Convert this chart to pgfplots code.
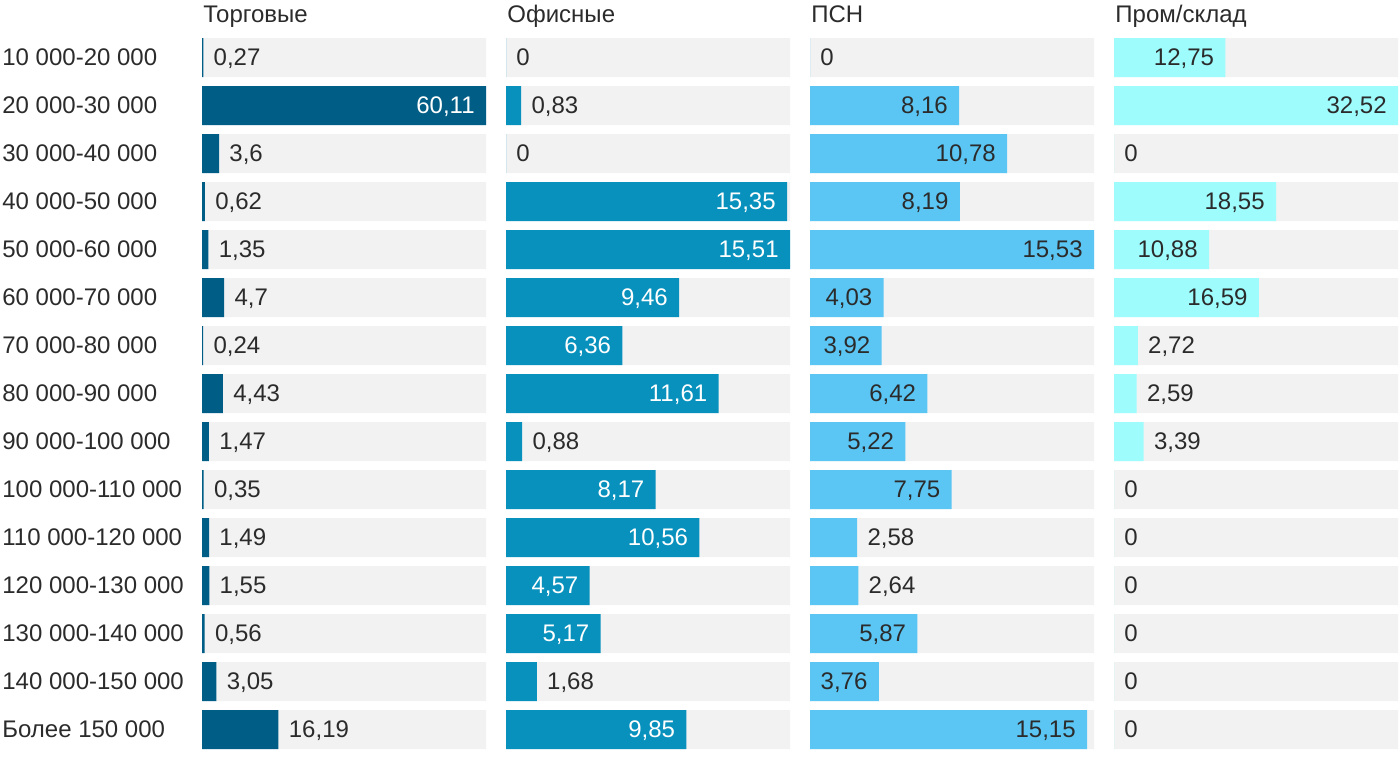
\documentclass[border=0pt]{standalone}
\usepackage{fontspec}
\setmainfont{Liberation Sans}
\usepackage{pgfplots}
\pgfplotsset{compat=1.18}
\definecolor{c1}{HTML}{005E86}
\definecolor{c2}{HTML}{0891BD}
\definecolor{c3}{HTML}{5BC6F4}
\definecolor{c4}{HTML}{9EFCFD}
\definecolor{bg}{HTML}{F2F2F2}
\definecolor{txt}{HTML}{2B2B2B}
\newcommand{\ff}{\fontsize{12}{14}\selectfont}
\pgfplotsset{
  panel/.style={xbar, bar width=19.5pt, bar shift=0pt, scale only axis,
    width=142pt, height=360pt, anchor=south west,
    xmin=0, ymin=0.5, ymax=15.5, y dir=reverse,
    axis line style={draw=none}, major tick length=0pt,
    xtick=\empty, ytick=\empty, clip=false,
    every axis title/.style={at={(0,1)}, anchor=base west, inner sep=0pt, yshift=5.75pt, xshift=0.5pt, font=\ff, text=txt},
    /pgf/number format/use comma, /pgf/number format/precision=2,
    /pgf/number format/assume math mode=true},
  lin/.style={draw=none, fill=none, nodes near coords,
    every node near coord/.style={anchor=east, xshift=-5.5pt, inner sep=0pt,
      text height=8.6pt, text depth=0pt, yshift=0.2pt, font=\ff, text=#1}},
  lout/.style={draw=none, fill=none, nodes near coords,
    every node near coord/.style={anchor=west, xshift=5pt, inner sep=0pt,
      text height=8.6pt, text depth=0pt, yshift=0.2pt, font=\ff, text=txt}},
}
\begin{document}
\begin{tikzpicture}
\path[use as bounding box] (0,0) rectangle (700pt,383pt);
% Panel 1
\begin{axis}[panel, at={(101pt,6.15pt)}, xmax=60.11, title={Торговые},
  ytick={1,...,15},
  yticklabels={10 000-20 000,20 000-30 000,30 000-40 000,40 000-50 000,50 000-60 000,60 000-70 000,70 000-80 000,80 000-90 000,90 000-100 000,100 000-110 000,110 000-120 000,120 000-130 000,130 000-140 000,140 000-150 000,Более 150 000},
  yticklabel style={anchor=west, xshift=-100pt, inner sep=0pt, text height=8.6pt, text depth=0pt, yshift=0.2pt, font=\ff, text=txt}]
\addplot[fill=bg, draw=none] coordinates {(60.11,1) (60.11,2) (60.11,3) (60.11,4) (60.11,5) (60.11,6) (60.11,7) (60.11,8) (60.11,9) (60.11,10) (60.11,11) (60.11,12) (60.11,13) (60.11,14) (60.11,15)};
\addplot[fill=c1, draw=none] coordinates {(0.27,1) (60.11,2) (3.6,3) (0.62,4) (1.35,5) (4.7,6) (0.24,7) (4.43,8) (1.47,9) (0.35,10) (1.49,11) (1.55,12) (0.56,13) (3.05,14) (16.19,15)};
\addplot[lin=white] coordinates {(60.11,2)};
\addplot[lout] coordinates {(0.27,1) (3.6,3) (0.62,4) (1.35,5) (4.7,6) (0.24,7) (4.43,8) (1.47,9) (0.35,10) (1.49,11) (1.55,12) (0.56,13) (3.05,14) (16.19,15)};
\end{axis}
% Panel 2
\begin{axis}[panel, at={(253pt,6.15pt)}, xmax=15.51, title={Офисные}]
\addplot[fill=bg, draw=none] coordinates {(15.51,1) (15.51,2) (15.51,3) (15.51,4) (15.51,5) (15.51,6) (15.51,7) (15.51,8) (15.51,9) (15.51,10) (15.51,11) (15.51,12) (15.51,13) (15.51,14) (15.51,15)};
\addplot[fill=c2, draw=none] coordinates {(0,1) (0.83,2) (0,3) (15.35,4) (15.51,5) (9.46,6) (6.36,7) (11.61,8) (0.88,9) (8.17,10) (10.56,11) (4.57,12) (5.17,13) (1.68,14) (9.85,15)};
\addplot[lin=white] coordinates {(15.35,4) (15.51,5) (9.46,6) (6.36,7) (11.61,8) (8.17,10) (10.56,11) (4.57,12) (5.17,13) (9.85,15)};
\addplot[lout] coordinates {(0,1) (0.83,2) (0,3) (0.88,9) (1.68,14)};
\end{axis}
% Panel 3
\begin{axis}[panel, at={(405pt,6.15pt)}, xmax=15.53, title={ПСН}]
\addplot[fill=bg, draw=none] coordinates {(15.53,1) (15.53,2) (15.53,3) (15.53,4) (15.53,5) (15.53,6) (15.53,7) (15.53,8) (15.53,9) (15.53,10) (15.53,11) (15.53,12) (15.53,13) (15.53,14) (15.53,15)};
\addplot[fill=c3, draw=none] coordinates {(0,1) (8.16,2) (10.78,3) (8.19,4) (15.53,5) (4.03,6) (3.92,7) (6.42,8) (5.22,9) (7.75,10) (2.58,11) (2.64,12) (5.87,13) (3.76,14) (15.15,15)};
\addplot[lin=txt] coordinates {(8.16,2) (10.78,3) (8.19,4) (15.53,5) (4.03,6) (3.92,7) (6.42,8) (5.22,9) (7.75,10) (5.87,13) (3.76,14) (15.15,15)};
\addplot[lout] coordinates {(0,1) (2.58,11) (2.64,12)};
\end{axis}
% Panel 4
\begin{axis}[panel, at={(557pt,6.15pt)}, xmax=32.52, title={Пром/склад}]
\addplot[fill=bg, draw=none] coordinates {(32.52,1) (32.52,2) (32.52,3) (32.52,4) (32.52,5) (32.52,6) (32.52,7) (32.52,8) (32.52,9) (32.52,10) (32.52,11) (32.52,12) (32.52,13) (32.52,14) (32.52,15)};
\addplot[fill=c4, draw=none] coordinates {(12.75,1) (32.52,2) (0,3) (18.55,4) (10.88,5) (16.59,6) (2.72,7) (2.59,8) (3.39,9) (0,10) (0,11) (0,12) (0,13) (0,14) (0,15)};
\addplot[lin=txt] coordinates {(12.75,1) (32.52,2) (18.55,4) (10.88,5) (16.59,6)};
\addplot[lout] coordinates {(0,3) (2.72,7) (2.59,8) (3.39,9) (0,10) (0,11) (0,12) (0,13) (0,14) (0,15)};
\end{axis}
\end{tikzpicture}
\end{document}
